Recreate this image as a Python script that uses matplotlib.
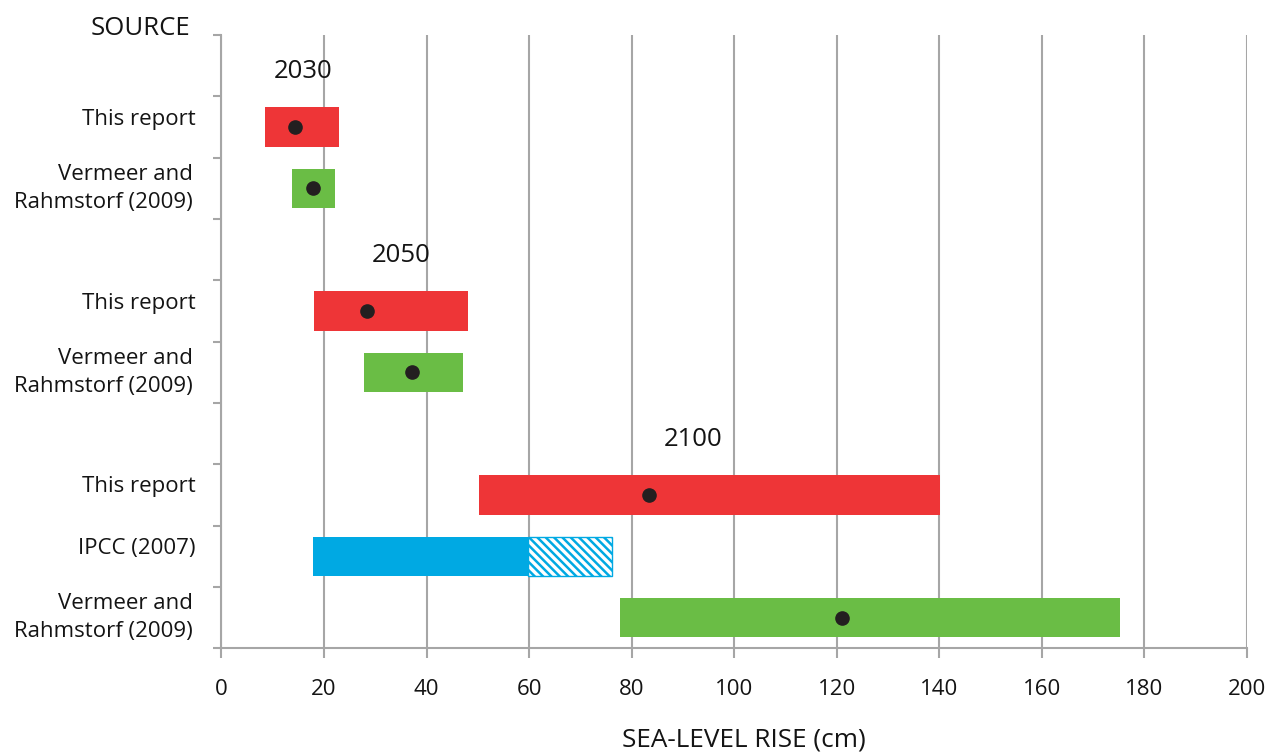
import numpy as np
import matplotlib.pyplot as plt
from matplotlib.transforms import blended_transform_factory

plt.rcParams['font.family'] = ['Open Sans', 'DejaVu Sans']
plt.rcParams['hatch.linewidth'] = 1.8

# rows from top to bottom; empty rows hold the year labels
row_labels = ['', 'This report', 'Vermeer and\nRahmstorf (2009)', '',
              'This report', 'Vermeer and\nRahmstorf (2009)', '',
              'This report', 'IPCC (2007)', 'Vermeer and\nRahmstorf (2009)']

# bars: row index, low, high, central estimate, colour
bar_rows = [1, 2, 4, 5, 7, 8, 9]
bar_low = [8.5, 13.7, 18.0, 27.8, 50.2, 17.8, 77.8]
bar_high = [22.9, 22.1, 48.0, 47.1, 140.2, 59.8, 175.3]
bar_mid = [14.3, 17.9, 28.3, 37.1, 83.3, None, 121.0]
bar_colors = ['#EE3537', '#6ABD45', '#EE3537', '#6ABD45', '#EE3537', '#00A9E3', '#6ABD45']

# IPCC ice-dynamics extension (hatched)
ext_row = 8
ext_low = 59.8
ext_high = 76.2

years = ['2030', '2050', '2100']
year_rows = [0, 3, 6]
year_x = [16, 35, 92]

grid_col = '#A6A6A6'
text_col = '#141414'

fig = plt.figure(figsize=(12.67, 7.53), dpi=100)
ax = fig.add_axes([0.1748, 0.1391, 0.8094, 0.8144])

ax.barh(bar_rows, np.array(bar_high) - np.array(bar_low), left=bar_low,
        height=0.64, color=bar_colors, zorder=3)
ax.barh([ext_row], [ext_high - ext_low], left=[ext_low], height=0.64,
        facecolor='white', edgecolor='#00A9E3', hatch='\\\\\\\\', linewidth=1, zorder=3)

for r, m in zip(bar_rows, bar_mid):
    if m is not None:
        ax.plot(m, r, 'o', color='#231F20', markersize=9.5, zorder=4)

for y, r, x in zip(years, year_rows, year_x):
    ax.text(x, r + 0.1, y, ha='center', va='center', fontsize=18.5, color=text_col)

ax.set_xlim(0, 200)
ax.set_ylim(9.5, -0.5)
ax.set_xticks(np.arange(0, 201, 20))
ax.set_yticks(np.arange(-0.5, 10, 1))
ax.set_yticklabels([])
ax.grid(axis='x', color=grid_col, linewidth=1.5, zorder=0)
ax.tick_params(axis='x', length=7, width=1.5, color=grid_col, labelsize=16,
               labelcolor=text_col, pad=15)
ax.tick_params(axis='y', length=6, width=1.5, color=grid_col)
for s in ['top', 'right']:
    ax.spines[s].set_visible(False)
for s in ['left', 'bottom']:
    ax.spines[s].set_color(grid_col)
    ax.spines[s].set_linewidth(1.5)

trans = blended_transform_factory(ax.transAxes, ax.transData)
for i, lab in enumerate(row_labels):
    if not lab:
        continue
    if '\n' in lab:
        ax.text(-0.028, i, lab, transform=trans, ha='right', va='center',
                fontsize=16, linespacing=1.45, color=text_col)
    else:
        ax.text(-0.025, i - 0.13, lab, transform=trans, ha='right', va='center',
                fontsize=16, color=text_col)

ax.text(-0.030, 1.0, 'SOURCE', transform=ax.transAxes, ha='right', va='baseline',
        fontsize=18.5, color=text_col)
ax.text(0.509, -0.161, 'SEA-LEVEL RISE (cm)', transform=ax.transAxes,
        ha='center', va='baseline', fontsize=18.8, color=text_col)

fig.savefig('out.png', dpi=100)
